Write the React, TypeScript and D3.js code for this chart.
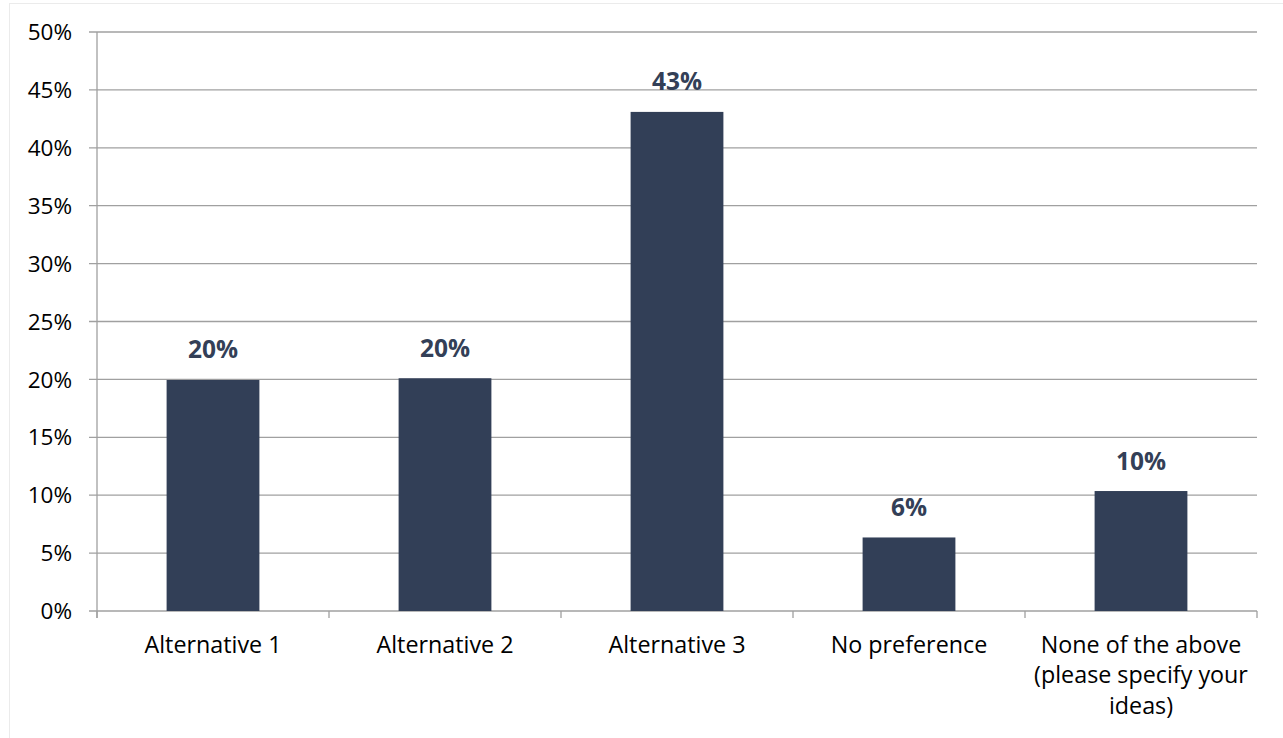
import React from "react";
import * as d3 from "d3";

const categories: string[][] = [
  ["Alternative 1"],
  ["Alternative 2"],
  ["Alternative 3"],
  ["No preference"],
  ["None of the above", "(please specify your", "ideas)"],
];
const values: number[] = [0.1995, 0.201, 0.431, 0.0635, 0.1036];
const valueLabels: string[] = ["20%", "20%", "43%", "6%", "10%"];
const yTicks: number[] = [0, 0.05, 0.1, 0.15, 0.2, 0.25, 0.3, 0.35, 0.4, 0.45, 0.5];

const W = 1283;
const H = 738;
const left = 97;
const right = 1257;
const top = 32;
const bottom = 611;
const FONT = "'Open Sans', 'Noto Sans', sans-serif";
const BAR = "#323F57";

export default function App() {
  const x = d3
    .scaleBand<number>()
    .domain(categories.map((_, i) => i))
    .range([left, right])
    .paddingInner(0.6)
    .paddingOuter(0.3);
  const band = (right - left) / categories.length;
  const y = d3.scaleLinear().domain([0, 0.5]).range([bottom, top]);
  const fmt = d3.format(".0%");

  return (
    <svg
      width={W}
      height={H}
      style={{ position: "absolute", left: 0, top: 0, background: "#fff" }}
    >
      <rect x={9.5} y={3.5} width={1290} height={760} fill="#fff" stroke="#ebebeb" />
      {yTicks.map((t) => (
        <g key={t}>
          <line x1={left - 8} x2={right} y1={y(t)} y2={y(t)} stroke="#a0a0a0" strokeWidth={1.3} />
          <text
            x={72}
            y={y(t)}
            dy="0.36em"
            textAnchor="end"
            fontFamily={FONT}
            fontSize={22.5}
            fill="#000"
          >
            {fmt(t)}
          </text>
        </g>
      ))}
      <line x1={left} x2={left} y1={top} y2={bottom + 7} stroke="#a0a0a0" strokeWidth={1.3} />
      {d3.range(categories.length + 1).map((i) => (
        <line
          key={i}
          x1={left + i * band}
          x2={left + i * band}
          y1={bottom}
          y2={bottom + 7}
          stroke="#a0a0a0"
          strokeWidth={1.3}
        />
      ))}
      {values.map((v, i) => (
        <g key={i}>
          <rect
            x={x(i)!}
            y={y(v)}
            width={x.bandwidth()}
            height={bottom - y(v)}
            fill={BAR}
          />
          <text
            x={x(i)! + x.bandwidth() / 2}
            y={y(v) - 21.5}
            textAnchor="middle"
            fontFamily={FONT}
            fontWeight="bold"
            fontSize={24.5}
            fill="#333F57"
          >
            {valueLabels[i]}
          </text>
        </g>
      ))}
      {categories.map((lines, i) => (
        <text
          key={i}
          x={left + (i + 0.5) * band}
          y={653}
          textAnchor="middle"
          fontFamily={FONT}
          fontSize={23.3}
          fill="#000"
        >
          {lines.map((l, j) => (
            <tspan key={j} x={left + (i + 0.5) * band} dy={j === 0 ? 0 : 30.3}>
              {l}
            </tspan>
          ))}
        </text>
      ))}
    </svg>
  );
}
